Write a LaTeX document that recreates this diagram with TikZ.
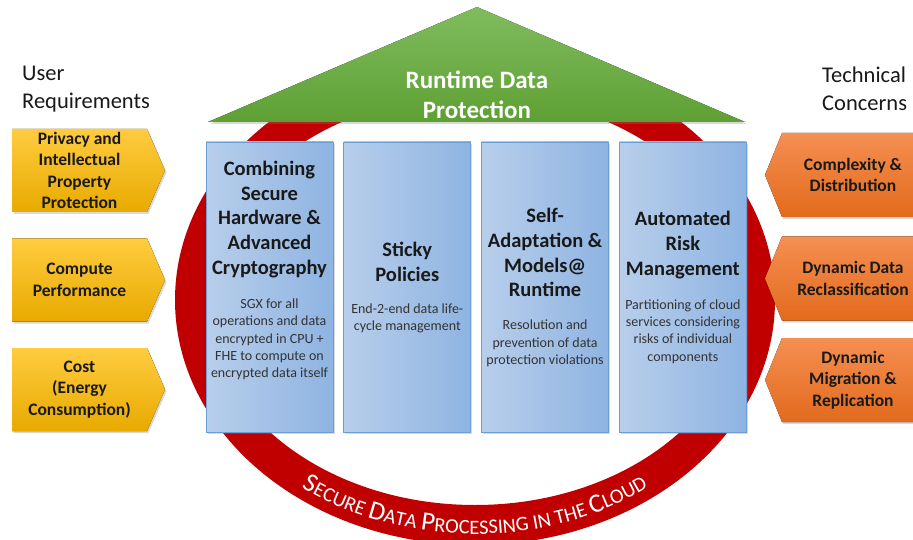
\documentclass[tikz,border=0pt]{standalone}
\usepackage{fontspec}
\setmainfont{Carlito}
\usetikzlibrary{positioning,shadows,decorations.text}
\definecolor{ringred}{RGB}{192,0,0}
\definecolor{pillarl}{RGB}{184,206,235}
\definecolor{pillarr}{RGB}{142,180,226}
\definecolor{pillarline}{RGB}{108,158,214}
\definecolor{roofup}{RGB}{128,188,94}
\definecolor{roofdown}{RGB}{94,160,52}
\definecolor{requp}{RGB}{255,204,64}
\definecolor{reqdown}{RGB}{232,170,0}
\definecolor{conup}{RGB}{245,143,82}
\definecolor{condown}{RGB}{226,106,28}
\newcommand\ringcap{\fontsize{26.5}{26.5}\selectfont}
\newcommand\ringsc{\fontsize{20.5}{20.5}\selectfont}

\begin{document}
\begin{tikzpicture}[x=1pt, y=-1pt,
    shdw/.style = {drop shadow={shadow xshift=1.5pt, shadow yshift=-2pt, opacity=0.3}},
    pillar/.style = {draw=pillarline, line width=0.8pt, left color=pillarl, right color=pillarr, minimum width=127pt, minimum height=290pt, inner sep=0pt, shdw},
    p-title/.style = {align=center, inner sep=0pt, text=black!90, font=\bfseries\fontsize{20.5}{24.8}\selectfont},
    p-body/.style = {align=center, inner sep=0pt, text=black!80, font=\fontsize{14}{17.3}\selectfont},
    req/.style = {top color=requp, bottom color=reqdown, shdw},
    concern/.style = {top color=conup, bottom color=condown, shdw},
    roof/.style = {top color=roofup, bottom color=roofdown, shdw},
    arr-txt/.style = {align=center, inner sep=0pt, text=black!90, font=\bfseries\fontsize{17.5}{21.5}\selectfont},
    side-lbl/.style = {align=left, anchor=west, inner sep=0pt, text=black!90, font=\fontsize{22.5}{28}\selectfont}
  ]
  \path[use as bounding box, clip] (0,0) rectangle (913,540);

  \coordinate (ringc) at (475,300);
  \fill[ringred, even odd rule] (ringc) ellipse[x radius=300pt, y radius=245pt]
    (ringc) ellipse[x radius=268pt, y radius=205pt];
  \path[decorate, decoration={text along path, text color=white, text align=center,
      text={|\ringcap|S|\ringsc|ECURE |\ringcap|D|\ringsc|ATA |\ringcap|P|\ringsc|ROCESSING IN THE |\ringcap|C|\ringsc|LOUD}}]
    ([shift={(205:290pt and 234pt)}]ringc) arc[start angle=205, end angle=335, x radius=290pt, y radius=234pt];

  \fill[roof] (208,122) -- (477,7) -- (745,122) -- cycle;
  \node[align=center, inner sep=0pt, text=white, font=\bfseries\fontsize{25}{30}\selectfont] (roof) at (477,95) {Runtime Data\\Protection};

  \node[pillar] (box1) at (269.5,287) {};
  \node[pillar, right=10pt of box1] (box2) {};
  \node[pillar, right=10pt of box2] (box3) {};
  \node[pillar, right=10pt of box3] (box4) {};

  \node[p-title] (t1) at ([yshift=67.5pt]box1) {Combining\\Secure\\Hardware \&\\Advanced\\Cryptography};
  \node[p-body] (b1) at ([yshift=-52.5pt]box1) {SGX for all\\operations and data\\encrypted in CPU +\\FHE to compute on\\encrypted data itself};
  \node[p-title] (t2) at ([yshift=25pt]box2) {Sticky\\Policies};
  \node[p-body] (b2) at ([yshift=-31.5pt]box2) {End-2-end data life-\\cycle management};
  \node[p-title] (t3) at ([yshift=34.5pt]box3) {Self-\\Adaptation \&\\Models@\\Runtime};
  \node[p-body] (b3) at ([yshift=-56.5pt]box3) {Resolution and\\prevention of data\\protection violations};
  \node[p-title] (t4) at ([yshift=42pt]box4) {Automated\\Risk\\Management};
  \node[p-body] (b4) at ([yshift=-44.5pt]box4) {Partitioning of cloud\\services considering\\risks of individual\\components};

  \node[side-lbl] (user) at (22,89) {User\\Requirements};
  \node[side-lbl] (tech) at (822,89) {Technical\\Concerns};

  \foreach \y/\txt [count=\i] in {170.5/{Privacy and\\Intellectual\\Property\\Protection}, 280/{Compute\\Performance}, 389.5/{Cost\\(Energy\\Consumption)}} {
    \fill[req] (12,\y-41.5) -- (147,\y-41.5) -- (165,\y) -- (147,\y+41.5) -- (12,\y+41.5) -- cycle;
    \node[arr-txt] (req\i) at (79.5,\y) {\txt};
  }
  \foreach \y/\txt [count=\i] in {175/{Complexity \&\\Distribution}, 278.5/{Dynamic Data\\Reclassification}, 380/{Dynamic\\Migration \&\\Replication}} {
    \fill[concern] (925,\y-42) -- (782,\y-42) -- (765,\y) -- (782,\y+42) -- (925,\y+42) -- cycle;
    \node[arr-txt] (con\i) at (853,\y) {\txt};
  }
\end{tikzpicture}
\end{document}
